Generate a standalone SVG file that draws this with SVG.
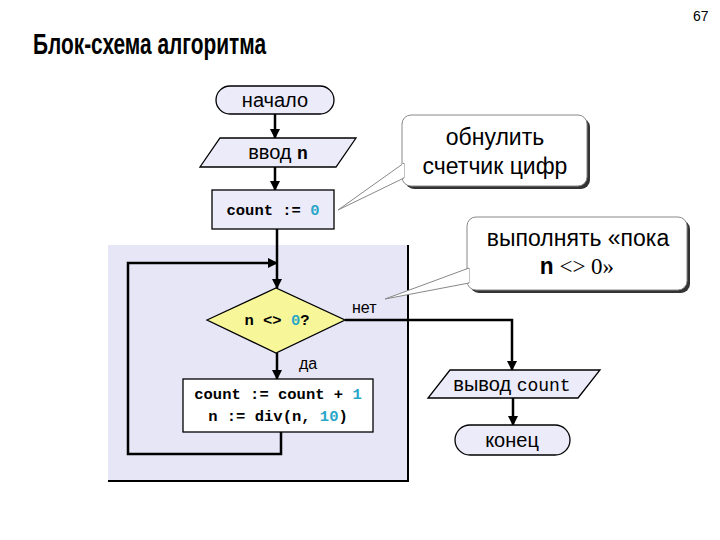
<svg xmlns="http://www.w3.org/2000/svg" width="720" height="540" viewBox="0 0 720 540">
<defs>
<style>
.node{fill:#ebebfa;stroke:#000;stroke-width:1.3}
.lbl{font-family:"Liberation Sans",Arial,sans-serif;font-size:20px;fill:#000;text-anchor:middle}
.code{font-family:"Liberation Mono","Courier New",monospace;font-size:15.5px;font-weight:bold;fill:#000;text-anchor:middle}
.num{fill:#2aa6c8}
.ln{fill:none;stroke:#000;stroke-width:2.5}
.call{fill:#fff;stroke:#888;stroke-width:1}
.shadow{fill:#333}
.ctext{font-family:"Liberation Sans",Arial,sans-serif;font-size:23px;fill:#000;text-anchor:middle}
.small{font-family:"Liberation Sans",Arial,sans-serif;font-size:16px;fill:#000}
</style>
<marker id="arr" viewBox="0 0 10 10" refX="9" refY="5" markerWidth="4" markerHeight="4" orient="auto" markerUnits="strokeWidth">
<path d="M0,0 L10,5 L0,10 z" fill="#000"/>
</marker>
</defs>
<rect width="720" height="540" fill="#fff"/>
<text x="693" y="21" style="font-family:'Liberation Sans',Arial,sans-serif;font-size:14px;fill:#000">67</text>
<text x="33" y="54" textLength="233" lengthAdjust="spacingAndGlyphs" style="font-family:'Liberation Sans',Arial,sans-serif;font-size:29px;font-weight:bold;fill:#000">Блок-схема алгоритма</text>

<g id="loop-region">
<rect x="108" y="245" width="300" height="236" fill="#e6e6f6"/>
<path d="M408,245 L408,481 L108,481" fill="none" stroke="#000" stroke-width="2"/>
</g>

<g id="connectors">
<line class="ln" x1="275" y1="114" x2="275" y2="138" marker-end="url(#arr)"/>
<line class="ln" x1="275" y1="167" x2="275" y2="190" marker-end="url(#arr)"/>
<line class="ln" x1="277" y1="229" x2="277" y2="288" marker-end="url(#arr)"/>
<polyline class="ln" points="281,432 281,454 128,454 128,263 277,263" marker-end="url(#arr)"/>
<line class="ln" x1="277" y1="353" x2="277" y2="379" marker-end="url(#arr)"/>
<polyline class="ln" points="345,320 512,320 512,370" marker-end="url(#arr)"/>
<line class="ln" x1="513" y1="398" x2="513" y2="425" marker-end="url(#arr)"/>
<text class="small" x="352" y="313">нет</text>
<text class="small" x="299" y="369">да</text>
</g>

<g id="start">
<rect class="node" x="216" y="86" width="118" height="28" rx="14"/>
<text class="lbl" x="275" y="107">начало</text>
</g>
<g id="input">
<polygon class="node" points="220,138 356,138 336,167 200,167"/>
<text x="278" y="159" style="font-family:'Liberation Sans',Arial,sans-serif;font-size:20px;text-anchor:middle">ввод <tspan style="font-family:'Liberation Mono',monospace;font-weight:bold;font-size:18px">n</tspan></text>
</g>
<g id="init">
<rect class="node" x="212" y="190" width="122" height="39"/>
<text class="code" x="273" y="215">count := <tspan class="num">0</tspan></text>
</g>
<g id="cond">
<polygon points="207,320 276,288 345,320 276,353" fill="#f7f79a" stroke="#000" stroke-width="1.3"/>
<text class="code" x="277" y="325">n &lt;&gt; <tspan class="num">0</tspan>?</text>
</g>
<g id="body">
<rect x="183" y="379" width="190" height="53" fill="#fff" stroke="#000" stroke-width="1.3"/>
<text class="code" x="278" y="399">count := count + <tspan class="num">1</tspan></text>
<text class="code" x="278" y="421">n := div(n, <tspan class="num">10</tspan>)</text>
</g>
<g id="output">
<polygon class="node" points="450,370 600,370 578,398 428,398"/>
<text x="512" y="391" style="font-family:'Liberation Sans',Arial,sans-serif;font-size:20px;text-anchor:middle">вывод <tspan style="font-family:'Liberation Mono',monospace;font-size:18px">count</tspan></text>
</g>
<g id="end">
<rect class="node" x="455" y="425" width="115" height="30" rx="15"/>
<text class="lbl" x="512" y="447">конец</text>
</g>

<g id="callout1">
<rect class="shadow" x="405" y="118" width="185" height="71" rx="9"/>
<rect class="call" x="402" y="115" width="185" height="71" rx="9"/>
<polygon points="404,163 338,210 404,178" fill="#fff" stroke="#888" stroke-width="1"/>
<line x1="403" y1="164" x2="403" y2="177" stroke="#fff" stroke-width="2"/>
<text class="ctext" x="495" y="145">обнулить</text>
<text class="ctext" x="495" y="174">счетчик цифр</text>
</g>
<g id="callout2">
<rect class="shadow" x="470" y="220" width="220" height="73" rx="9"/>
<rect class="call" x="467" y="217" width="220" height="73" rx="9"/>
<polygon points="469,268 385,299 469,283" fill="#fff" stroke="#888" stroke-width="1"/>
<line x1="468" y1="269" x2="468" y2="282" stroke="#fff" stroke-width="2"/>
<text class="ctext" x="578" y="246">выполнять «пока</text>
<text x="577" y="274" style="font-family:'Liberation Serif','Times New Roman',serif;font-size:23px;text-anchor:middle;fill:#000"><tspan style="font-family:'Liberation Mono',monospace;font-weight:bold">n</tspan> &lt;&gt; 0»</text>
</g>
</svg>
